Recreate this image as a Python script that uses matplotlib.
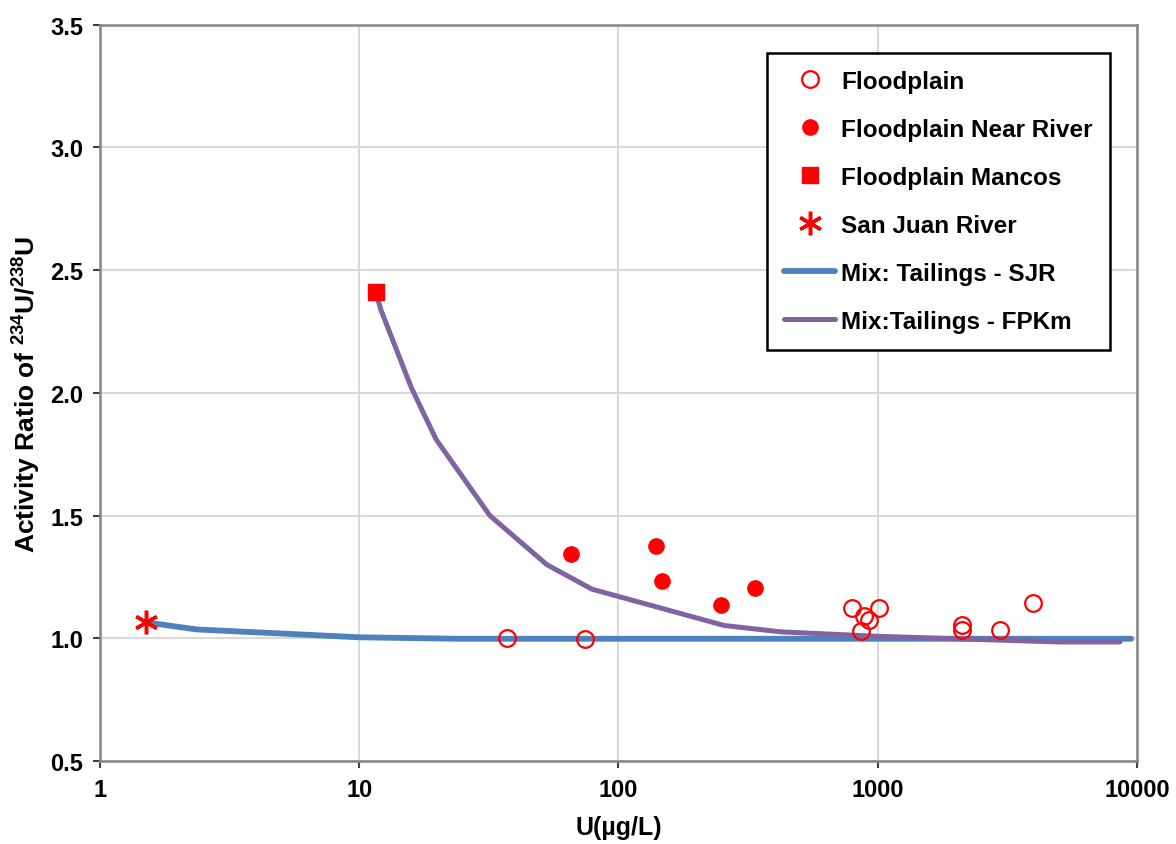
import matplotlib
matplotlib.use("Agg")
import matplotlib.pyplot as plt
from matplotlib.ticker import FixedLocator, FixedFormatter, NullLocator

plt.rcParams['font.family'] = ['Liberation Sans', 'DejaVu Sans']
plt.rcParams['font.weight'] = 'bold'
plt.rcParams['mathtext.fontset'] = 'custom'
plt.rcParams['mathtext.bf'] = 'Liberation Sans:bold'
plt.rcParams['mathtext.rm'] = 'Liberation Sans:bold'
plt.rcParams['mathtext.default'] = 'bf'

# data
floodplain_u = [37.1, 74.3, 793, 888, 928, 1014, 862, 2108, 2108, 2960, 3963]
floodplain_ar = [1.002, 0.998, 1.124, 1.090, 1.075, 1.124, 1.030, 1.056, 1.032, 1.035, 1.143]

near_river_u = [65.6, 139.6, 147, 248, 336]
near_river_ar = [1.344, 1.377, 1.234, 1.136, 1.206]

mancos_u = [11.6]
mancos_ar = [2.41]

sjr_u = [1.50]
sjr_ar = [1.067]

mix_sjr_u = [1.5, 2.36, 10, 24, 100, 1000, 9500]
mix_sjr_ar = [1.065, 1.036, 1.004, 0.998, 0.998, 0.998, 0.998]

mix_fpkm_u = [11.6, 12.1, 15.9, 19.8, 31.9, 52.9, 79, 256, 424, 1000, 2000, 5000, 8600]
mix_fpkm_ar = [2.41, 2.34, 2.02, 1.81, 1.50, 1.30, 1.20, 1.052, 1.026, 1.008, 0.998, 0.985, 0.985]

x_ticks = [1, 10, 100, 1000, 10000]
x_labels = ['1', '10', '100', '1000', '10000']
y_ticks = [0.5, 1.0, 1.5, 2.0, 2.5, 3.0, 3.5]

red = '#FF0000'

fig = plt.figure(figsize=(11.76, 8.45), dpi=100)
ax = fig.add_axes([0.085, 0.0982, 0.8818, 0.8716])

ax.plot(floodplain_u, floodplain_ar, 'o', ms=12, mfc='none', mec=red, mew=1.6,
        label='Floodplain', zorder=5)
ax.plot(near_river_u, near_river_ar, 'o', ms=11, color=red,
        label='Floodplain Near River', zorder=5)
ax.plot(mancos_u, mancos_ar, 's', ms=12, color=red,
        label='Floodplain Mancos', zorder=6)
ax.plot(sjr_u, sjr_ar, linestyle='none', marker=(6, 2, 0), ms=17, mec=red, mew=2.5,
        label='San Juan River', zorder=6)
ax.plot(mix_sjr_u, mix_sjr_ar, color='#4F81BD', lw=4.2, solid_capstyle='round',
        label='Mix: Tailings - SJR', zorder=3)
ax.plot(mix_fpkm_u, mix_fpkm_ar, color='#8064A2', lw=3.6, solid_capstyle='round',
        label='Mix:Tailings - FPKm', zorder=4)

ax.set_xscale('log')
ax.set_xlim(1, 10000)
ax.set_ylim(0.5, 3.5)
ax.xaxis.set_major_locator(FixedLocator(x_ticks))
ax.xaxis.set_major_formatter(FixedFormatter(x_labels))
ax.xaxis.set_minor_locator(NullLocator())
ax.set_yticks(y_ticks)
ax.set_yticklabels(['%.1f' % v for v in y_ticks])

ax.grid(True, color='#D9D9D9', lw=1.5)
ax.set_axisbelow(True)
for s in ax.spines.values():
    s.set_color('#868686')
    s.set_linewidth(1.8)
ax.tick_params(axis='both', direction='out', length=5, width=1.5, color='#404040',
               labelsize=17, pad=7)

ax.set_xlabel('U(µg/L)', fontsize=18, fontweight='bold', labelpad=10)
ax.set_ylabel('Activity Ratio of $^{234}$U/$^{238}$U', fontsize=19,
              fontweight='bold', labelpad=5)

leg = ax.legend(loc='upper right', bbox_to_anchor=(0.974, 0.962), fontsize=17.5,
                frameon=True, fancybox=False, edgecolor='black', framealpha=1,
                labelspacing=1.03, handlelength=2.1, handletextpad=0.25,
                borderpad=0.7, borderaxespad=0)
leg.get_frame().set_linewidth(1.8)

fig.savefig('out.png', dpi=100)
